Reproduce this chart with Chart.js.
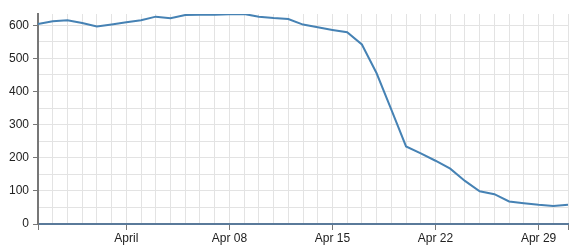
<!DOCTYPE html>
<html>
<head>
<meta charset="utf-8">
<script src="https://cdn.jsdelivr.net/npm/chart.js@4/dist/chart.umd.min.js"></script>
<style>
    html, body { margin: 0; padding: 0; background: #fff; }
    #wrap { width: 583px; height: 251px; }
</style>
</head>
<body>
<div id="wrap"><canvas id="chart-line"></canvas></div>
<script>
// daily values, Mar 26 .. May 1
const days = [
    '2020-03-26', '2020-03-27', '2020-03-28', '2020-03-29', '2020-03-30', '2020-03-31',
    '2020-04-01', '2020-04-02', '2020-04-03', '2020-04-04', '2020-04-05', '2020-04-06',
    '2020-04-07', '2020-04-08', '2020-04-09', '2020-04-10', '2020-04-11', '2020-04-12',
    '2020-04-13', '2020-04-14', '2020-04-15', '2020-04-16', '2020-04-17', '2020-04-18',
    '2020-04-19', '2020-04-20', '2020-04-21', '2020-04-22', '2020-04-23', '2020-04-24',
    '2020-04-25', '2020-04-26', '2020-04-27', '2020-04-28', '2020-04-29', '2020-04-30',
    '2020-05-01'
];
const values = [
    604, 612, 615, 607, 596, 602,
    609, 615, 626, 621, 631, 632,
    632, 633, 634, 626, 622, 619,
    602, 594, 586, 579, 542, 455,
    345, 234, 213, 191, 167, 130,
    99, 90, 68, 63, 58, 54,
    58
];
const tickDays = ['2020-04-01', '2020-04-08', '2020-04-15', '2020-04-22', '2020-04-29'];
const tickLabels = ['April', 'Apr 08', 'Apr 15', 'Apr 22', 'Apr 29'];
const yLabelStep = 100;
const yGridStep = 50;

const font = { family: "'Liberation Sans', Arial, sans-serif", size: 12 };
const gridColor = '#e3e3e3';
const clear = 'rgba(0,0,0,0)';

const ctx = document.getElementById('chart-line');

new Chart(ctx, {
    type: 'line',
    data: {
        labels: days,
        datasets: [{
            data: values,
            borderColor: '#4682b4',
            borderWidth: 2,
            pointRadius: 0,
            tension: 0,
            fill: false
        }]
    },
    options: {
        responsive: true,
        maintainAspectRatio: false,
        animation: false,
        layout: {
            padding: { top: 14, right: 15, left: 0, bottom: 0 }
        },
        plugins: {
            legend: { display: false },
            tooltip: { enabled: false }
        },
        scales: {
            x: {
                type: 'category',
                offset: false,
                border: { color: '#5a7a9a', width: 2 },
                grid: {
                    color: gridColor,
                    tickLength: 6,
                    tickColor: (c) => {
                        const i = c.index;
                        const last = days.length - 1;
                        if (i === 0 || i === last || tickDays.includes(days[i])) return '#777';
                        return clear;
                    }
                },
                ticks: {
                    autoSkip: false,
                    maxRotation: 0,
                    padding: 1,
                    color: '#222',
                    font: font,
                    callback: function (v, i) {
                        const k = tickDays.indexOf(days[i]);
                        return k >= 0 ? tickLabels[k] : '';
                    }
                },
                afterFit: (s) => { s.height = 27; }
            },
            y: {
                min: 0,
                max: Math.max(...values),
                border: { color: '#777', width: 2 },
                grid: {
                    color: (c) => (c.tick && c.tick.value % yGridStep === 0) ? gridColor : clear,
                    tickLength: 5,
                    tickColor: (c) => (c.tick && c.tick.value % yLabelStep === 0) ? '#777' : clear
                },
                ticks: {
                    padding: 4,
                    color: '#222',
                    font: font,
                    callback: (v) => (v % yLabelStep === 0 ? v : '')
                },
                afterBuildTicks: (s) => {
                    const t = [];
                    for (let v = 0; v <= s.max; v += yGridStep) t.push({ value: v });
                    s.ticks = t;
                },
                afterFit: (s) => { s.width = 38; }
            }
        }
    }
});
</script>
</body>
</html>
